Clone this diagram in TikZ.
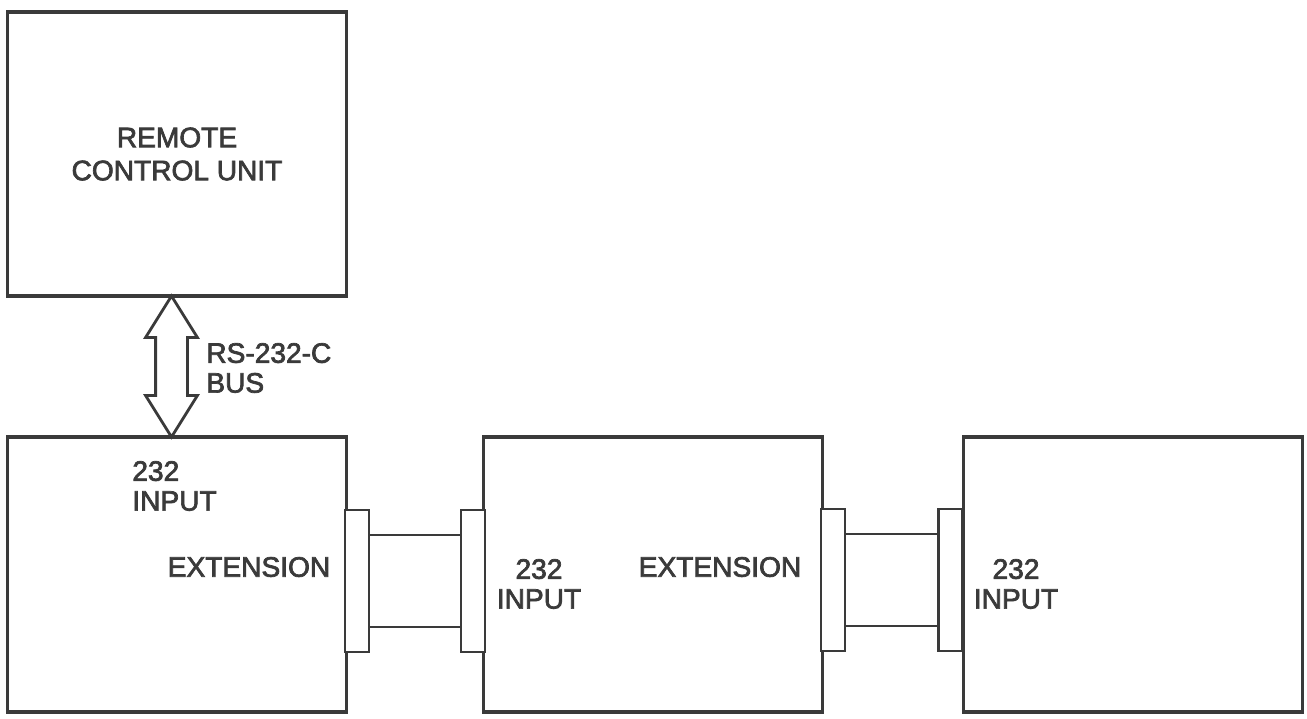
\documentclass[tikz,border=0pt]{standalone}
\usepackage{fontspec}
\setmainfont{Liberation Sans}[FakeBold=2.5]
\usetikzlibrary{shapes.arrows,positioning}
\definecolor{ink}{HTML}{3A3A3A}
\begin{document}
\begin{tikzpicture}[x=0.02cm, y=-0.02cm, every node/.style={font=\fontsize{16}{17}\selectfont, text=ink},
box/.style={draw=ink, line width=1.8pt, minimum width=6.78cm, minimum height=5.5cm, inner sep=0pt},
tab/.style={draw=ink, line width=1.6pt, fill=white, minimum width=0.48cm, minimum height=2.84cm, inner sep=0pt},
bar/.style={draw=ink, line width=1.6pt},
lbl/.style={align=center, inner sep=0pt}]
\useasboundingbox (0,0) rectangle (1307,718);
% remote unit and bus
\node[box, minimum height=5.68cm] (remote) at (177,154) {};
\node[lbl, font=\fontsize{16}{18.8}\selectfont] (remotetxt) at (remote.center) {REMOTE\\CONTROL UNIT};
\node[double arrow, draw=ink, line width=1.6pt, rotate=90, minimum height=2.82cm,
  inner xsep=0pt, inner ysep=0.29cm, double arrow head extend=0.2cm, double arrow tip angle=64] (bus) at (171.5,366.5) {};
\node[lbl, align=left, anchor=west] (buslbl) at (206,368) {RS-232-C\\BUS};
% chained units
\node[box] (unitA) at (177,574.5) {};
\node[box] (unitB) at (653,574.5) {};
\node[box] (unitC) at (1133,574.5) {};
\node[lbl, align=left, anchor=west] (inA) at (132,486) {232\\INPUT};
\node[lbl] (extA) at (249,567) {EXTENSION};
\node[lbl] (inB) at (539,584) {232\\INPUT};
\node[lbl] (extB) at (720,567) {EXTENSION};
\node[lbl] (inC) at (1016,584) {232\\INPUT};
% cable plugs
\node[tab] (plugA) at (357,581) {};
\node[tab] (plugB) at (473,581) {};
\node[tab] (plugC) at (833,580) {};
\node[tab] (plugD) at (950.5,580) {};
\draw[bar] ([yshift=0.92cm]plugA.east) -- ([yshift=0.92cm]plugB.west);
\draw[bar] ([yshift=-0.92cm]plugA.east) -- ([yshift=-0.92cm]plugB.west);
\draw[bar] ([yshift=0.92cm]plugC.east) -- ([yshift=0.92cm]plugD.west);
\draw[bar] ([yshift=-0.92cm]plugC.east) -- ([yshift=-0.92cm]plugD.west);
\end{tikzpicture}
\end{document}
